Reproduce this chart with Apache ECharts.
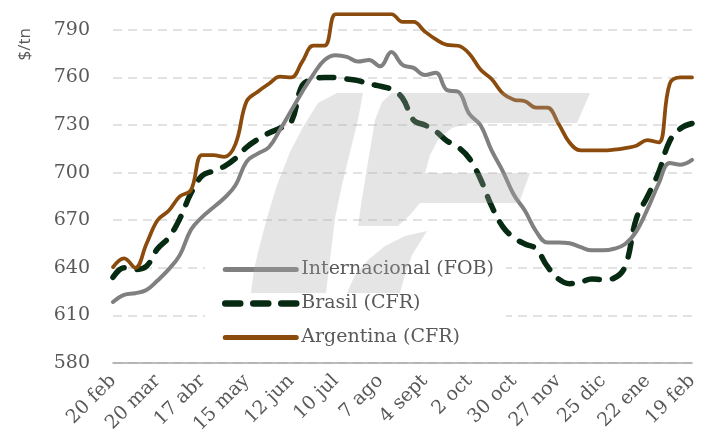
<!DOCTYPE html>
<html>
<head>
<meta charset="utf-8">
<script src="https://cdn.jsdelivr.net/npm/echarts@6/dist/echarts.min.js"></script>
<style>
html,body{margin:0;padding:0;background:#fff;}
#chart{width:708px;height:443px;}
</style>
</head>
<body>
<div id="chart"></div>
<script>
// Weekly categories (20 feb -> 19 feb)
const categories = ["20 feb","27 feb","6 mar","13 mar","20 mar","27 mar","3 abr","10 abr","17 abr","24 abr",
"1 may","8 may","15 may","22 may","29 may","5 jun","12 jun","19 jun","26 jun","3 jul",
"10 jul","17 jul","24 jul","31 jul","7 ago","14 ago","21 ago","28 ago","4 sept","11 sept",
"18 sept","25 sept","2 oct","9 oct","16 oct","23 oct","30 oct","6 nov","13 nov","20 nov",
"27 nov","4 dic","11 dic","18 dic","25 dic","1 ene","8 ene","15 ene","22 ene","29 ene",
"5 feb","12 feb","19 feb"];

const internacional = [618.5,623,624,626,632,639,648,664,672,678,
684,692,707,712,716,727,739,751,762,771,
774,773,770,771,767,776,768,766,761.5,763,
752,751,737,730,714,701,686,676,663,656,
656,655.5,653,651,651,652,655,663,677,693,
706,705,708];

const brasil = [634,640,639,641,652,659,671,687,698,701,
704,709,716,721,725,728,732,755,759,760,
760,759,758,756,754.5,752.5,747,733,730,726,
720,716,709,696,679,666,659,655,652,641,
633,630,631,633,632.5,633.5,641,671,685,700,
720,728,731];

const argentina = [640.5,646,640,655,670,676,685,689,711,711,
710,718,745,751,756,760.5,760,770,780,780,
800,800,800,800,800,800,795,795,789,784,
780.5,780,775,765,759,750,746,745,741,741,
731,719,714,714,714,714.5,715.5,717,720.5,719,
756,760,760];

const yTicks = [580,610,640,670,700,730,760,790];
const seriesNames = ["Internacional (FOB)","Brasil (CFR)","Argentina (CFR)"];

const chart = echarts.init(document.getElementById('chart'), null, {renderer:'canvas'});
const serif = "DejaVu Serif";
const txt = "#595959";
const wm = 'rgba(170,170,170,0.3)';

chart.setOption({
  animation:false,
  backgroundColor:'#fff',
  grid:{left:113, right:16, top:14, bottom:80, containLabel:false},
  xAxis:{
    type:'category', data:categories, boundaryGap:false,
    axisLine:{show:true, lineStyle:{color:'#a6a6a6', width:1.5}},
    axisTick:{show:false},
    axisLabel:{interval:3, rotate:45, margin:15, color:txt, fontFamily:serif, fontSize:19},
    splitLine:{show:false}
  },
  yAxis:{
    type:'value', min:580, max:800,
    axisLine:{show:false},
    axisTick:{show:false, customValues:yTicks},
    axisLabel:{customValues:yTicks, margin:23, color:txt, fontFamily:serif, fontSize:19},
    splitLine:{show:true, lineStyle:{color:'#d9d9d9', width:1.5, type:[9,6]}}
  },
  legend:{
    orient:'vertical', left:205, top:250,
    padding:[10,12,10,17],
    backgroundColor:'#ffffff',
    itemWidth:71, itemHeight:20, itemGap:15,
    itemStyle:{color:'rgba(0,0,0,0)', borderWidth:0, opacity:0},
    lineStyle:{width:'inherit'},
    textStyle:{color:txt, fontFamily:serif, fontSize:19},
    data:[
      {name:seriesNames[0], lineStyle:{width:5}},
      {name:seriesNames[1], lineStyle:{width:6.5}},
      {name:seriesNames[2], lineStyle:{width:5}}
    ]
  },
  graphic:[
    {type:'text', left:17, top:28, rotation:Math.PI/2,
     style:{text:'$/tn', fill:txt, font:'17px "Open Sans"'}, z:10},
    {type:'polygon', z:100, silent:true,
     shape:{points:[[337,93],[363,93],[358,120],[350,152],[342,185],[335,218],[330,260],[326,293],[251,293],[254,270],[258,252],[267,218],[277,185],[290,152],[303,127],[318,103]]},
     style:{fill:wm}},
    {type:'polygon', z:100, silent:true,
     shape:{points:[[392,93],[590,93],[577,123],[470,123],[452,128],[438,140],[430,155],[425,173],[530,173],[519,203],[420,203],[410,215],[398,226],[358,226],[361,205],[365,180],[370,150],[375,120],[382,102]]},
     style:{fill:wm}},
    {type:'polygon', z:100, silent:true,
     shape:{points:[[427,231],[405,236],[385,246],[368,260],[355,275],[347,293],[400,293],[405,275],[412,255]]},
     style:{fill:wm}}
  ],
  series:[
    {name:seriesNames[0], type:'line', data:internacional, smooth:0.4, symbol:'none',
     lineStyle:{color:'#808080', width:4, cap:'round', join:'round'}, itemStyle:{color:'#808080'}, z:3},
    {name:seriesNames[1], type:'line', data:brasil, smooth:0.4, symbol:'none',
     lineStyle:{color:'#072a12', width:5.5, type:[15,13], cap:'round', join:'round'}, itemStyle:{color:'#072a12'}, z:2},
    {name:seriesNames[2], type:'line', data:argentina, smooth:0.4, symbol:'none',
     lineStyle:{color:'#8b4b0d', width:3.75, cap:'round', join:'round'}, itemStyle:{color:'#8b4b0d'}, z:4}
  ]
});
</script>
</body>
</html>
